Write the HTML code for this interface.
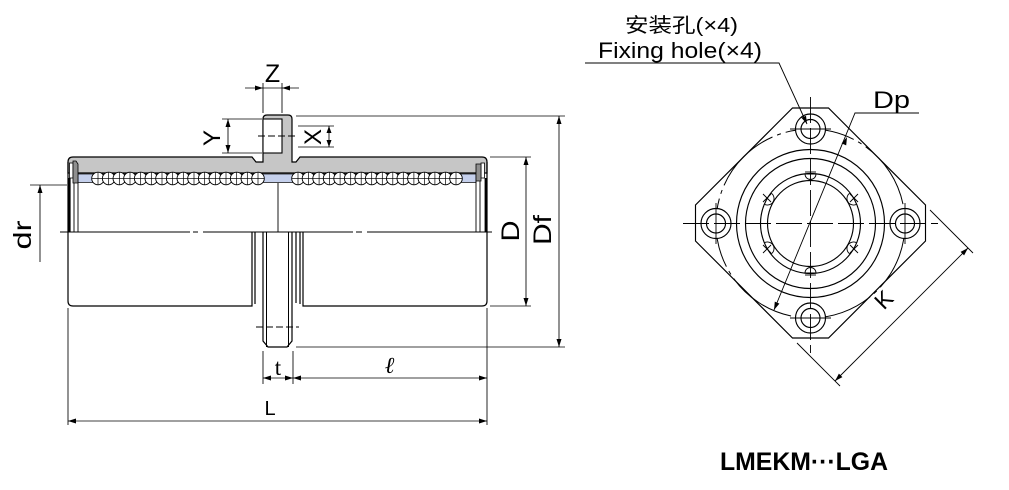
<!DOCTYPE html>
<html><head><meta charset="utf-8"><style>
html,body{margin:0;padding:0;background:#fff;}
svg{display:block;}
text{font-family:"Liberation Sans","Noto Sans CJK SC",sans-serif;fill:#000;}
</style></head><body>
<svg width="1009" height="490" viewBox="0 0 1009 490" xmlns="http://www.w3.org/2000/svg">
<defs>
<g id="ball"><circle cx="0" cy="0" r="6.3" fill="#fff" stroke="#000" stroke-width="0.9"/><line x1="0" y1="-6.3" x2="0" y2="6.3" stroke="#000" stroke-width="0.7"/><line x1="-6.3" y1="0" x2="6.3" y2="0" stroke="#000" stroke-width="0.7"/></g>
</defs>
<rect width="1009" height="490" fill="#fff"/>

<!-- ============ LEFT VIEW ============ -->
<!-- gray sleeve + flange section -->
<path d="M68,173 V162 Q68,157 73,157 H252 L256,162 H263 V119 Q263,115 267,115 H288 Q292,115 292,119 V162 H296 L300,157 H482 Q487,157 487,162 V173 Z" fill="#c6c6c6" stroke="#000" stroke-width="1.2"/>
<!-- hole in flange -->
<rect x="263" y="119" width="19" height="34" fill="#fff" stroke="#000" stroke-width="1.1"/>
<line x1="258" y1="136" x2="297" y2="136" stroke="#000" stroke-width="0.9" stroke-dasharray="7 3"/>
<!-- blue retainer band -->
<rect x="78" y="174" width="398" height="8.5" fill="#c5d0ec" stroke="#000" stroke-width="0.7"/>
<!-- balls -->
<g>
<use href="#ball" x="98" y="178.5"/><use href="#ball" x="108.67" y="178.5"/><use href="#ball" x="119.33" y="178.5"/><use href="#ball" x="130" y="178.5"/>
<use href="#ball" x="140.67" y="178.5"/><use href="#ball" x="151.33" y="178.5"/><use href="#ball" x="162" y="178.5"/><use href="#ball" x="172.67" y="178.5"/>
<use href="#ball" x="183.33" y="178.5"/><use href="#ball" x="194" y="178.5"/><use href="#ball" x="204.67" y="178.5"/><use href="#ball" x="215.33" y="178.5"/>
<use href="#ball" x="226" y="178.5"/><use href="#ball" x="236.67" y="178.5"/><use href="#ball" x="247.33" y="178.5"/><use href="#ball" x="258" y="178.5"/>
<use href="#ball" x="298" y="178.5"/><use href="#ball" x="308.5" y="178.5"/><use href="#ball" x="319.1" y="178.5"/><use href="#ball" x="329.6" y="178.5"/>
<use href="#ball" x="340.1" y="178.5"/><use href="#ball" x="350.7" y="178.5"/><use href="#ball" x="361.2" y="178.5"/><use href="#ball" x="371.7" y="178.5"/>
<use href="#ball" x="382.3" y="178.5"/><use href="#ball" x="392.8" y="178.5"/><use href="#ball" x="403.3" y="178.5"/><use href="#ball" x="413.9" y="178.5"/>
<use href="#ball" x="424.4" y="178.5"/><use href="#ball" x="434.9" y="178.5"/><use href="#ball" x="445.5" y="178.5"/><use href="#ball" x="456" y="178.5"/>
</g>
<!-- left end seal -->
<rect x="69.5" y="163" width="3.5" height="15" fill="#fff" stroke="#000" stroke-width="0.8"/>
<polygon points="73,161 76,161 78,164 78,183 73,183" fill="#8f8f8f" stroke="#000" stroke-width="0.8"/>
<rect x="68" y="178" width="2.6" height="54" fill="#000"/>
<line x1="74" y1="183" x2="74" y2="232" stroke="#000" stroke-width="0.9"/>
<line x1="78" y1="183" x2="78" y2="232" stroke="#000" stroke-width="0.9"/>
<!-- right end seal -->
<rect x="481" y="163" width="3.5" height="15" fill="#fff" stroke="#000" stroke-width="0.8"/>
<polygon points="476,164 481,164 481,181 476,181" fill="#8f8f8f" stroke="#000" stroke-width="0.8"/>
<rect x="484.6" y="178" width="2.6" height="54" fill="#000"/>
<line x1="476" y1="181" x2="476" y2="232" stroke="#000" stroke-width="0.9"/>
<line x1="480" y1="181" x2="480" y2="232" stroke="#000" stroke-width="0.9"/>
<!-- vertical center line of flange in section -->
<line x1="278" y1="183" x2="278" y2="232" stroke="#000" stroke-width="0.9"/>
<!-- center line -->
<g stroke="#000" stroke-width="1">
<line x1="60" y1="232" x2="190" y2="232"/><line x1="193" y1="232" x2="198" y2="232"/><line x1="203" y1="232" x2="353" y2="232"/><line x1="356" y1="232" x2="362" y2="232"/><line x1="367" y1="232" x2="492" y2="232"/>
</g>
<!-- lower half exterior -->
<g stroke="#000" stroke-width="1.2" fill="none">
<path d="M68,162 V301 Q68,306 73,306 H252 V232"/>
<line x1="255" y1="232" x2="255" y2="304"/>
<path d="M263,232 V341 L268,347 H287 L292,341 V232"/>
<line x1="266.5" y1="232" x2="266.5" y2="347" stroke-width="1"/>
<line x1="288.5" y1="232" x2="288.5" y2="347" stroke-width="1"/>
<line x1="296" y1="232" x2="296" y2="303"/>
<line x1="300" y1="232" x2="300" y2="304"/>
<path d="M487,162 V301 Q487,306 482,306 H303 V232"/>
</g>
<line x1="256" y1="327" x2="299" y2="327" stroke="#000" stroke-width="0.9" stroke-dasharray="7 3"/>

<!-- dimension lines -->
<g stroke="#000" stroke-width="0.85" fill="none">
<!-- Z -->
<line x1="263" y1="83" x2="263" y2="113"/><line x1="282" y1="83" x2="282" y2="113"/><line x1="245" y1="88" x2="299" y2="88"/>
<!-- Y -->
<line x1="222" y1="119" x2="262" y2="119"/><line x1="222" y1="153" x2="262" y2="153"/><line x1="228" y1="119" x2="228" y2="153"/>
<!-- X -->
<line x1="298" y1="126" x2="334" y2="126"/><line x1="298" y1="147" x2="334" y2="147"/><line x1="329" y1="126" x2="329" y2="147"/>
<!-- Df -->
<line x1="296" y1="116" x2="565" y2="116"/><line x1="296" y1="347" x2="565" y2="347"/><line x1="559" y1="116" x2="559" y2="347"/>
<!-- D -->
<line x1="490" y1="157" x2="531" y2="157"/><line x1="490" y1="306" x2="531" y2="306"/><line x1="526" y1="157" x2="526" y2="306"/>
<!-- dr -->
<line x1="30" y1="185" x2="67" y2="185"/><line x1="40" y1="185" x2="40" y2="262"/>
<!-- t / l -->
<line x1="263" y1="351" x2="263" y2="384"/><line x1="293" y1="351" x2="293" y2="384"/><line x1="263" y1="378" x2="487" y2="378"/>
<!-- L -->
<line x1="68" y1="308" x2="68" y2="425"/><line x1="487" y1="308" x2="487" y2="425"/><line x1="68" y1="421" x2="487" y2="421"/>
</g>
<g fill="#000">
<polygon points="263,88 255,85.5 255,90.5"/><polygon points="282,88 290,85.5 290,90.5"/>
<polygon points="228,119 225.5,127 230.5,127"/><polygon points="228,153 225.5,145 230.5,145"/>
<polygon points="329,126 326.5,133 331.5,133"/><polygon points="329,147 326.5,140 331.5,140"/>
<polygon points="559,116 556.5,124 561.5,124"/><polygon points="559,347 556.5,339 561.5,339"/>
<polygon points="526,157 523.5,165 528.5,165"/><polygon points="526,306 523.5,298 528.5,298"/>
<polygon points="40,185 37.5,193 42.5,193"/>
<polygon points="263,378 271,375.5 271,380.5"/><polygon points="293,378 285,375.5 285,380.5"/>
<polygon points="293,378 301,375.5 301,380.5"/><polygon points="487,378 479,375.5 479,380.5"/>
<polygon points="68,421 76,418.5 76,423.5"/><polygon points="487,421 479,418.5 479,423.5"/>
</g>
<!-- labels left view -->
<text x="272.5" y="82" font-size="25" text-anchor="middle">Z</text>
<text transform="translate(220,138) rotate(-90)" font-size="24" text-anchor="middle">Y</text>
<text transform="translate(321,137) rotate(-90)" font-size="24" text-anchor="middle">X</text>
<text transform="translate(31,235) rotate(-90)" font-size="25" text-anchor="middle" textLength="29" lengthAdjust="spacingAndGlyphs">dr</text>
<text transform="translate(519,231) rotate(-90)" font-size="25" text-anchor="middle" textLength="21" lengthAdjust="spacingAndGlyphs">D</text>
<text transform="translate(551,230) rotate(-90)" font-size="25" text-anchor="middle" textLength="30" lengthAdjust="spacingAndGlyphs">Df</text>
<text x="278" y="375" font-size="23" text-anchor="middle" style="font-family:'Liberation Serif',serif">t</text>
<text x="390" y="373" font-size="23" text-anchor="middle" font-style="italic" font-weight="bold" style="font-family:'Liberation Serif','DejaVu Serif',serif">ℓ</text>
<text x="270" y="415" font-size="20" text-anchor="middle">L</text>

<!-- ============ RIGHT VIEW ============ -->
<g stroke="#000" fill="none" stroke-width="1.15">
<polygon points="792.5,108 828.5,108 925.5,205 925.5,241 828.5,338 792.5,338 695.5,241 695.5,205"/>
<circle cx="810.5" cy="223.5" r="94.5" stroke-dasharray="70 5 4 5" stroke-width="1"/>
<circle cx="810.5" cy="223.5" r="74"/>
<circle cx="810.5" cy="223.5" r="65"/>
<circle cx="810.5" cy="223.5" r="50"/>
<circle cx="810.5" cy="223.5" r="43"/>
</g>
<!-- holes -->
<g stroke="#000" stroke-width="1.15" fill="#fff">
<circle cx="810.5" cy="129" r="15"/><circle cx="810.5" cy="129" r="9.5"/>
<circle cx="716" cy="223.5" r="15"/><circle cx="716" cy="223.5" r="9.5"/>
<circle cx="905" cy="223.5" r="15"/><circle cx="905" cy="223.5" r="9.5"/>
<circle cx="810.5" cy="318" r="15"/><circle cx="810.5" cy="318" r="9.5"/>
</g>
<!-- small retainer marks -->
<g stroke="#000" stroke-width="0.9" fill="none">
<path d="M805,174 A5.5,5.5 0 0 0 816,174 Z"/><line x1="805" y1="172" x2="816" y2="172"/>
<path d="M805,273 A5.5,5.5 0 0 1 816,273 Z"/><line x1="805" y1="275" x2="816" y2="275"/>
<path d="M850,193 A5,5 0 0 0 857,204"/><line x1="850" y1="194" x2="858" y2="202"/><line x1="858" y1="194" x2="850" y2="202"/>
<path d="M771,193 A5,5 0 0 1 764,204"/><line x1="763" y1="194" x2="771" y2="202"/><line x1="771" y1="194" x2="763" y2="202"/>
<path d="M771,254 A5,5 0 0 0 764,243"/><line x1="763" y1="245" x2="771" y2="253"/><line x1="771" y1="245" x2="763" y2="253"/>
<path d="M850,254 A5,5 0 0 1 857,243"/><line x1="850" y1="245" x2="858" y2="253"/><line x1="858" y1="245" x2="850" y2="253"/>
</g>
<!-- center lines -->
<g stroke="#000" stroke-width="0.9">
<line x1="683" y1="223.5" x2="938" y2="223.5" stroke-dasharray="26 5"/>
<line x1="810.5" y1="97" x2="810.5" y2="353" stroke-dasharray="26 5"/>
<line x1="790" y1="129" x2="831" y2="129"/>
<line x1="790" y1="318" x2="831" y2="318"/>
<line x1="716" y1="203" x2="716" y2="244"/>
<line x1="905" y1="203" x2="905" y2="244"/>
</g>
<!-- Dp leader -->
<g stroke="#000" stroke-width="0.9" fill="none">
<polyline points="774,310 855,113 919,113"/>
<!-- K -->
<line x1="930" y1="210" x2="973" y2="253"/>
<line x1="797" y1="343" x2="840" y2="386"/>
<line x1="968" y1="248" x2="835" y2="381"/>
<!-- fixing hole leader -->
<polyline points="585,63 779,63 807,124"/>
</g>
<g fill="#000">
<polygon points="847,137 846.2,145.4 841.6,143.4"/>
<polygon points="774,310 779.4,303.6 774.8,301.6"/>
<polygon points="968,248 964.1,255.4 960.6,251.9"/>
<polygon points="835,381 842.4,377.1 838.9,373.6"/>
<polygon points="807,124 806,115.7 801.4,117.7"/>
</g>
<text x="873" y="108" font-size="24" textLength="37" lengthAdjust="spacingAndGlyphs">Dp</text>
<text transform="translate(885,301) rotate(-45)" font-size="23" text-anchor="middle" dominant-baseline="middle">K</text>
<text x="625" y="32" font-size="20" textLength="113" lengthAdjust="spacingAndGlyphs" style="font-family:'Liberation Sans','Noto Sans CJK SC',sans-serif">安装孔(×4)</text>
<text x="598" y="58" font-size="22" textLength="164" lengthAdjust="spacingAndGlyphs">Fixing hole(×4)</text>
<text x="720" y="470" font-size="25" font-weight="bold" textLength="168" lengthAdjust="spacingAndGlyphs">LMEKM···LGA</text>
</svg>
</body></html>
